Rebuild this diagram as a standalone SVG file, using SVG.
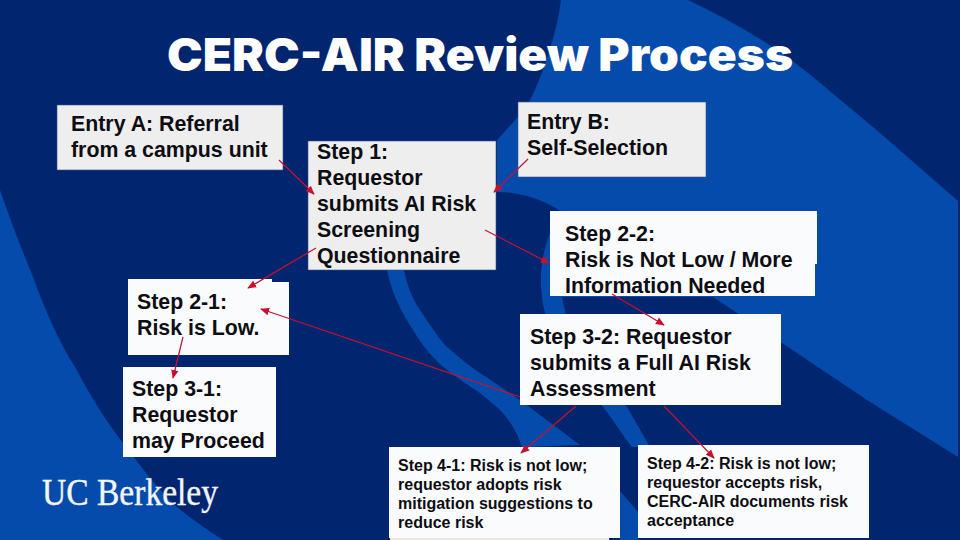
<svg xmlns="http://www.w3.org/2000/svg" width="960" height="540" viewBox="0 0 960 540">
<defs>
<marker id="ah" viewBox="0 0 10 10" refX="9" refY="5" markerWidth="9" markerHeight="9" markerUnits="userSpaceOnUse" orient="auto"><path d="M0,0.8 L10,5 L0,9.2 Z" fill="#c8102e"/></marker>
</defs>
<style>
.bg{fill:#01266f}
.lt{fill:#054bab}
.g{fill:#eeeeee;stroke:#3b5488;stroke-width:.6}
.w{fill:#fafbfd}
text{font-family:"Liberation Sans",Arial,sans-serif;font-weight:700;fill:#0d0d12}
.m{font-size:21.33px}
.s{font-size:16px}
.c line{stroke:#c8102e;stroke-width:1.2;marker-end:url(#ah)}
</style>
<g id="background">
<rect class="bg" width="960" height="540"/>
<path class="lt" d="M0,190 C12,225 22,250 33,277 C45,310 58,340 75,367 C90,395 105,420 123,443 C140,465 158,490 177,507 C190,518 208,530 223,540 L0,540 Z"/>
<path class="lt" d="M561,0 C558,25 550,50 543,70 C537,85 530,105 518,117 L497,140 L497,192 C520,192 545,200 560,211 C545,240 538,265 542,297 L562,297 L713,297 L782,343 L867,400 L958,457 L958,201 L880,133 L813,77 C775,45 730,20 688,0 Z"/>
<path class="lt" d="M387,270 L404,270 C407,285 412,298 420,310 C430,325 440,340 447,347 C460,358 468,365 480,373 C495,383 508,392 520,400 L580,445 L522,447 C518,435 514,428 507,418 C500,408 490,402 480,393 C468,385 457,378 447,370 C432,358 422,345 413,330 C402,313 392,295 387,270 Z"/>
<path class="lt" d="M542,297 C544,330 580,375 603,407 C615,422 622,435 632,447 L650,447 L627,407 C600,375 570,345 562,297 Z"/>
<path class="lt" d="M620,491 L638,512 L638,540 L620,540 Z"/>
</g>
<text id="title" x="167" y="71" font-size="45" style="font-family:Inter,sans-serif;font-weight:900;fill:#fff" textLength="626" lengthAdjust="spacingAndGlyphs">CERC-AIR Review Process</text>
<text id="logo" x="42" y="505" font-size="38" style="font-family:'Liberation Serif',serif;font-weight:400;fill:#f2f5fa;stroke:#f2f5fa;stroke-width:.4" textLength="176" lengthAdjust="spacingAndGlyphs">UC Berkeley</text>
<g id="entry-a"><rect class="g" x="57" y="105" width="226" height="65"/><text class="m" x="71" y="131">Entry A: Referral</text><text class="m" x="71" y="157">from a campus unit</text></g>
<g id="step-1"><rect class="g" x="308" y="141" width="188" height="129"/><text class="m" x="317" y="159">Step 1:</text><text class="m" x="317" y="185">Requestor</text><text class="m" x="317" y="211">submits AI Risk</text><text class="m" x="317" y="237">Screening</text><text class="m" x="317" y="263">Questionnaire</text></g>
<g id="entry-b"><rect class="g" x="518" y="102" width="188" height="75"/><text class="m" x="527" y="129">Entry B:</text><text class="m" x="527" y="155">Self-Selection</text></g>
<g id="step-2-2"><path class="w" d="M550,211 H817 V264 H815 V296 H550 Z"/><text class="m" x="565" y="241">Step 2-2:</text><text class="m" x="565" y="267">Risk is Not Low / More</text><text class="m" x="565" y="293">Information Needed</text></g>
<g id="step-2-1"><path class="w" d="M128,279 H272 V282 H289 V355 H128 Z"/><text class="m" x="137" y="309">Step 2-1:</text><text class="m" x="137" y="335">Risk is Low.</text></g>
<g id="step-3-1"><rect class="w" x="123" y="367" width="153" height="90"/><text class="m" x="132" y="396">Step 3-1:</text><text class="m" x="132" y="422">Requestor</text><text class="m" x="132" y="448">may Proceed</text></g>
<g id="step-3-2"><rect class="w" x="520" y="314" width="261" height="91"/><text class="m" x="530" y="344">Step 3-2: Requestor</text><text class="m" x="530" y="370">submits a Full AI Risk</text><text class="m" x="530" y="396">Assessment</text></g>
<g id="step-4-1"><rect x="390" y="536" width="219" height="4" fill="#f3e6d8"/><rect class="w" x="389" y="447" width="231" height="91"/><text class="s" x="398" y="471">Step 4-1: Risk is not low;</text><text class="s" x="398" y="490">requestor adopts risk</text><text class="s" x="398" y="509">mitigation suggestions to</text><text class="s" x="398" y="528">reduce risk</text></g>
<g id="step-4-2"><rect class="w" x="638" y="445" width="231" height="93"/><text class="s" x="647" y="469">Step 4-2: Risk is not low;</text><text class="s" x="647" y="488">requestor accepts risk,</text><text class="s" x="647" y="507">CERC-AIR documents risk</text><text class="s" x="647" y="526">acceptance</text></g>
<g id="connectors" class="c">
<line x1="279" y1="160" x2="314" y2="194"/>
<line x1="528" y1="159" x2="494" y2="192"/>
<line x1="316" y1="248" x2="248" y2="288"/>
<line x1="485" y1="230" x2="549" y2="263"/>
<line x1="183" y1="337" x2="173" y2="378"/>
<line x1="612" y1="294" x2="664" y2="325"/>
<line x1="520" y1="397" x2="261" y2="309"/>
<line x1="576" y1="406" x2="521" y2="453"/>
<line x1="664" y1="406" x2="714" y2="458"/>
</g>
</svg>
